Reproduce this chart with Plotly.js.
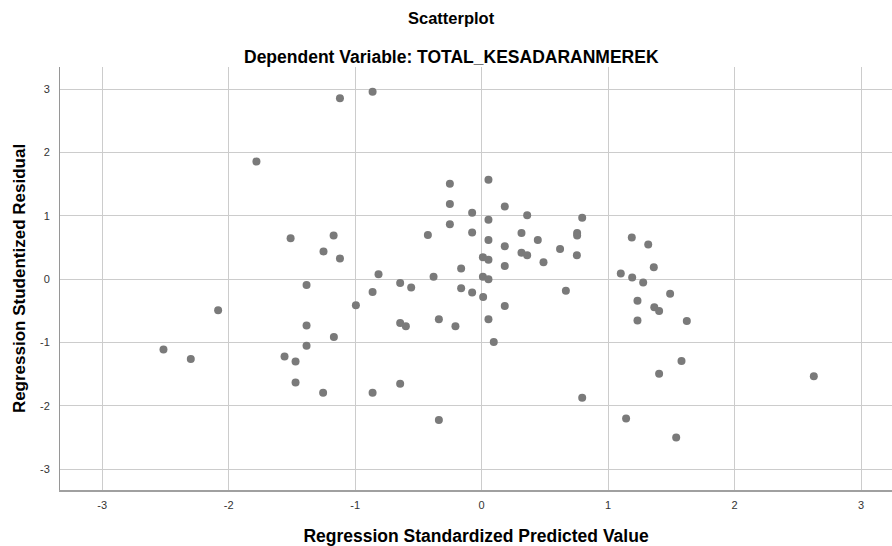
<!DOCTYPE html>
<html>
<head>
<meta charset="utf-8">
<script src="https://cdn.plot.ly/plotly-3.0.1.min.js"></script>
<style>html,body{margin:0;padding:0;background:#fff;}#chart{width:892px;height:546px;}</style>
</head>
<body>
<div id="chart"></div>
<script>
const predicted = [
  -2.515, -2.299, -2.083, -1.78, -1.558, -1.51, -1.471, -1.471, -1.384, -1.384,
  -1.384, -1.253, -1.25, -1.17, -1.168, -1.12, -1.12, -0.994, -0.862, -0.862,
  -0.862, -0.815, -0.644, -0.644, -0.644, -0.599, -0.557, -0.425, -0.38, -0.338,
  -0.338, -0.251, -0.251, -0.251, -0.207, -0.162, -0.162, -0.075, -0.075, -0.075,
  0.01, 0.01, 0.012, 0.054, 0.054, 0.054, 0.054, 0.054, 0.054, 0.096,
  0.183, 0.183, 0.183, 0.183, 0.315, 0.315, 0.36, 0.36, 0.444, 0.489,
  0.62, 0.666, 0.753, 0.755, 0.755, 0.795, 0.795, 1.1, 1.142, 1.187,
  1.19, 1.232, 1.232, 1.277, 1.317, 1.361, 1.365, 1.403, 1.403, 1.49,
  1.538, 1.58, 1.622, 2.626
];
const residual = [
  -1.11, -1.26, -0.49, 1.86, -1.22, 0.65, -1.30, -1.63, -0.09, -0.73,
  -1.05, -1.79, 0.44, 0.69, -0.91, 2.86, 0.33, -0.41, 2.96, -0.20,
  -1.79, 0.08, -0.06, -0.69, -1.65, -0.74, -0.13, 0.70, 0.04, -0.63,
  -2.22, 1.51, 1.19, 0.87, -0.74, 0.17, -0.14, 1.05, 0.74, -0.21,
  0.35, 0.04, -0.28, 1.57, 0.94, 0.62, 0.31, 0.00, -0.63, -0.99,
  1.15, 0.52, 0.21, -0.42, 0.73, 0.42, 1.01, 0.38, 0.62, 0.27,
  0.48, -0.18, 0.38, 0.73, 0.69, 0.97, -1.87, 0.09, -2.20, 0.66,
  0.03, -0.34, -0.65, -0.05, 0.55, 0.19, -0.44, -0.50, -1.49, -0.23,
  -2.50, -1.29, -0.66, -1.53
];
const tickValues = [-3, -2, -1, 0, 1, 2, 3];
const tickLabels = ['-3', '-2', '-1', '0', '1', '2', '3'];
const chartTitle = 'Scatterplot';
const chartSubtitle = 'Dependent Variable: TOTAL_KESADARANMEREK';
const xTitle = 'Regression Standardized Predicted Value';
const yTitle = 'Regression Studentized Residual';

const FONT = '"Liberation Sans", Arial, sans-serif';

const trace = {
  x: predicted,
  y: residual,
  type: 'scatter',
  mode: 'markers',
  marker: {color: 'rgb(122,122,122)', size: 8, line: {width: 0}},
  hoverinfo: 'x+y'
};

const layout = {
  width: 892,
  height: 546,
  margin: {l: 60, r: 0, t: 67, b: 56},
  paper_bgcolor: '#ffffff',
  plot_bgcolor: '#ffffff',
  showlegend: false,
  font: {family: FONT, color: '#000'},
  xaxis: {
    range: [-3.333, 3.244],
    tickvals: tickValues,
    ticktext: tickLabels,
    showgrid: true,
    gridcolor: 'rgb(204,204,204)',
    gridwidth: 1,
    zeroline: false,
    showline: true,
    linecolor: 'rgb(160,160,160)',
    linewidth: 2,
    ticks: '',
    ticklabelstandoff: 4,
    tickfont: {family: FONT, size: 11, color: '#333'},
    title: {text: xTitle, font: {family: FONT, size: 17.5, color: '#000', weight: 'bold'}, standoff: 22},
    fixedrange: true
  },
  yaxis: {
    range: [-3.327, 3.352],
    tickvals: tickValues,
    ticktext: tickLabels,
    showgrid: true,
    gridcolor: 'rgb(204,204,204)',
    gridwidth: 1,
    zeroline: false,
    showline: true,
    linecolor: 'rgb(150,150,150)',
    linewidth: 1,
    ticks: '',
    ticklabelstandoff: 7,
    tickfont: {family: FONT, size: 11, color: '#333'},
    title: {text: yTitle, font: {family: FONT, size: 17, color: '#000', weight: 'bold'}, standoff: 10},
    fixedrange: true
  },
  annotations: [
    {text: '<b>' + chartTitle + '</b>', xref: 'paper', yref: 'paper', x: 0.471, y: 1.116,
     xanchor: 'center', yanchor: 'middle', showarrow: false,
     font: {family: FONT, size: 16.5, color: '#000'}},
    {text: '<b>' + chartSubtitle + '</b>', xref: 'paper', yref: 'paper', x: 0.471, y: 1.024,
     xanchor: 'center', yanchor: 'middle', showarrow: false,
     font: {family: FONT, size: 17.5, color: '#000'}}
  ]
};

Plotly.newPlot('chart', [trace], layout, {displayModeBar: false, staticPlot: true});
</script>
</body>
</html>
